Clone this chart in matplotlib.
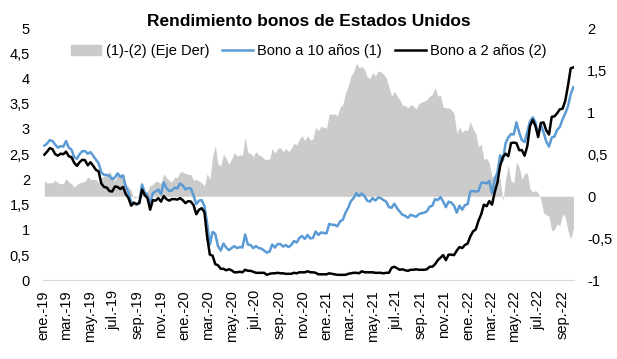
import matplotlib
matplotlib.use("Agg")
import matplotlib.pyplot as plt
import matplotlib.dates as mdates
from matplotlib.patches import Patch
from matplotlib.lines import Line2D
from matplotlib.ticker import FuncFormatter, MultipleLocator
import numpy as np
import pandas as pd

plt.rcParams['font.family'] = ['Liberation Sans', 'DejaVu Sans']

# weekly (Friday) readings, ene.-19 .. sep.-22
dates = pd.date_range('2019-01-04', '2022-09-30', freq='W-FRI')

# Bono a 10 años (1), %
bono10 = [
    2.67, 2.71, 2.78, 2.76,                 # ene-19
    2.69, 2.63, 2.66, 2.65,                 # feb-19
    2.76, 2.63, 2.59, 2.44, 2.41,           # mar-19
    2.50, 2.56, 2.56, 2.51,                 # abr-19
    2.54, 2.47, 2.39, 2.32, 2.14,           # may-19
    2.09, 2.09, 2.07, 2.00,                 # jun-19
    2.04, 2.12, 2.05, 2.08,                 # jul-19
    1.86, 1.74, 1.55, 1.52, 1.50,           # ago-19
    1.55, 1.90, 1.74, 1.69,                 # sep-19
    1.53, 1.73, 1.76, 1.80,                 # oct-19
    1.71, 1.94, 1.83, 1.77, 1.78,           # nov-19
    1.84, 1.82, 1.92, 1.88,                 # dic-19
    1.80, 1.83, 1.82, 1.68, 1.51,           # ene-20
    1.58, 1.59, 1.47, 1.13,                 # feb-20
    0.71, 0.96, 0.92, 0.68,                 # mar-20
    0.59, 0.73, 0.65, 0.60,                 # abr-20
    0.64, 0.68, 0.64, 0.66, 0.65,           # may-20
    0.91, 0.71, 0.70, 0.64,                 # jun-20
    0.68, 0.64, 0.63, 0.59, 0.55,           # jul-20
    0.57, 0.71, 0.65, 0.72,                 # ago-20
    0.72, 0.67, 0.70, 0.66,                 # sep-20
    0.70, 0.78, 0.75, 0.84, 0.88,           # oct-20
    0.82, 0.90, 0.83, 0.84,                 # nov-20
    0.97, 0.90, 0.95, 0.94,                 # dic-20
    0.93, 1.12, 1.10, 1.10, 1.07,           # ene-21
    1.17, 1.20, 1.34, 1.44,                 # feb-21
    1.57, 1.63, 1.73, 1.67,                 # mar-21
    1.72, 1.67, 1.58, 1.56, 1.63,           # abr-21
    1.58, 1.64, 1.63, 1.59,                 # may-21
    1.56, 1.45, 1.44, 1.52,                 # jun-21
    1.43, 1.36, 1.30, 1.28, 1.24,           # jul-21
    1.30, 1.28, 1.26, 1.31,                 # ago-21
    1.33, 1.34, 1.37, 1.46,                 # sep-21
    1.48, 1.61, 1.59, 1.65, 1.56,           # oct-21
    1.45, 1.56, 1.54, 1.48,                 # nov-21
    1.34, 1.48, 1.40, 1.49, 1.51,           # dic-21
    1.76, 1.77, 1.76, 1.77,                 # ene-22
    1.93, 1.94, 1.92, 1.97,                 # feb-22
    1.73, 2.00, 2.14, 2.48,                 # mar-22
    2.38, 2.72, 2.83, 2.90, 2.89,           # abr-22
    3.13, 2.93, 2.78, 2.74,                 # may-22
    2.94, 3.15, 3.23, 3.13,                 # jun-22
    2.88, 3.08, 2.93, 2.75, 2.65,           # jul-22
    2.83, 2.85, 2.98, 3.04,                 # ago-22
    3.19, 3.31, 3.45, 3.69, 3.83,           # sep-22
]

# Bono a 2 años (2), %
bono2 = [
    2.49, 2.55, 2.62, 2.60,                 # ene-19
    2.50, 2.47, 2.51, 2.50,                 # feb-19
    2.55, 2.46, 2.44, 2.33, 2.27,           # mar-19
    2.34, 2.39, 2.38, 2.28,                 # abr-19
    2.34, 2.27, 2.19, 2.16, 1.92,           # may-19
    1.85, 1.84, 1.77, 1.76,                 # jun-19
    1.86, 1.85, 1.81, 1.85,                 # jul-19
    1.71, 1.63, 1.48, 1.54, 1.51,           # ago-19
    1.53, 1.80, 1.69, 1.63,                 # sep-19
    1.40, 1.59, 1.58, 1.63,                 # oct-19
    1.56, 1.67, 1.61, 1.58, 1.61,           # nov-19
    1.61, 1.60, 1.63, 1.59,                 # dic-19
    1.53, 1.57, 1.56, 1.49, 1.31,           # ene-20
    1.40, 1.43, 1.35, 0.86,                 # feb-20
    0.51, 0.49, 0.32, 0.30,                 # mar-20
    0.23, 0.23, 0.20, 0.22,                 # abr-20
    0.20, 0.16, 0.16, 0.17, 0.16,           # may-20
    0.21, 0.19, 0.19, 0.17,                 # jun-20
    0.15, 0.15, 0.15, 0.15, 0.11,           # jul-20
    0.13, 0.14, 0.14, 0.15,                 # ago-20
    0.14, 0.14, 0.13, 0.13,                 # sep-20
    0.13, 0.15, 0.14, 0.16, 0.16,           # oct-20
    0.16, 0.18, 0.16, 0.16,                 # nov-20
    0.15, 0.12, 0.12, 0.12,                 # dic-20
    0.12, 0.14, 0.13, 0.12, 0.11,           # ene-21
    0.11, 0.11, 0.11, 0.13,                 # feb-21
    0.14, 0.15, 0.15, 0.14,                 # mar-21
    0.18, 0.16, 0.16, 0.16, 0.16,           # abr-21
    0.15, 0.15, 0.15, 0.14,                 # may-21
    0.15, 0.15, 0.25, 0.27,                 # jun-21
    0.24, 0.21, 0.22, 0.20, 0.19,           # jul-21
    0.21, 0.21, 0.22, 0.21,                 # ago-21
    0.21, 0.21, 0.22, 0.27,                 # sep-21
    0.27, 0.32, 0.40, 0.45, 0.50,           # oct-21
    0.40, 0.51, 0.51, 0.50,                 # nov-21
    0.59, 0.66, 0.64, 0.70, 0.73,           # dic-21
    0.87, 0.97, 1.01, 1.18,                 # ene-22
    1.31, 1.50, 1.47, 1.57,                 # feb-22
    1.50, 1.75, 1.94, 2.27,                 # mar-22
    2.44, 2.51, 2.46, 2.72, 2.73,           # abr-22
    2.72, 2.58, 2.58, 2.47,                 # may-22
    2.66, 3.06, 3.18, 3.06,                 # jun-22
    2.84, 3.12, 3.13, 2.97, 2.89,           # jul-22
    3.24, 3.25, 3.31, 3.39,                 # ago-22
    3.40, 3.56, 3.86, 4.20, 4.22,           # sep-22
]

meses = ['ene.', 'feb.', 'mar.', 'abr.', 'may.', 'jun.',
         'jul.', 'ago.', 'sep.', 'oct.', 'nov.', 'dic.']

y10 = np.array(bono10)
y2 = np.array(bono2)
spread = y10 - y2   # (1)-(2)

fig = plt.figure(figsize=(6.17, 3.59), dpi=100)
ax = fig.add_axes([0.070, 0.219, 0.860, 0.703])
ax2 = ax.twinx()
ax.set_zorder(ax2.get_zorder() + 1)
ax.patch.set_visible(False)

ax2.fill_between(dates, 0, spread, color='#cbcbcb', linewidth=0)
ax.plot(dates, y10, color='#5b9bd5', lw=1.8)
ax.plot(dates, y2, color='black', lw=1.8)

ax.set_ylim(0, 5)
ax2.set_ylim(-1, 2)
ax.yaxis.set_major_locator(MultipleLocator(0.5))
ax2.yaxis.set_major_locator(MultipleLocator(0.5))
coma = FuncFormatter(lambda v, p: ('%g' % v).replace('.', ','))
ax.yaxis.set_major_formatter(coma)
ax2.yaxis.set_major_formatter(coma)

ax.set_xlim(pd.Timestamp('2019-01-01'), pd.Timestamp('2022-10-01'))
ax.xaxis.set_major_locator(mdates.MonthLocator(bymonth=[1, 3, 5, 7, 9, 11]))
ax.xaxis.set_major_formatter(FuncFormatter(
    lambda v, p: meses[mdates.num2date(v).month - 1] + '-' + mdates.num2date(v).strftime('%y')))
plt.setp(ax.get_xticklabels(), rotation=90)

for a in (ax, ax2):
    for s in a.spines.values():
        s.set_visible(False)
    a.tick_params(length=0, labelsize=10.5)
ax.tick_params(axis='y', pad=9.5)
ax2.tick_params(axis='y', pad=9.5)
ax.tick_params(axis='x', pad=7)
ax.spines['bottom'].set_visible(True)
ax.spines['bottom'].set_color('#d9d9d9')
ax.spines['bottom'].set_linewidth(0.8)

handles = [Patch(color='#cbcbcb'),
           Line2D([], [], color='#5b9bd5', lw=1.8),
           Line2D([], [], color='black', lw=1.8)]
labels = ['(1)-(2) (Eje Der)', 'Bono a 10 años (1)', 'Bono a 2 años (2)']
fig.legend(handles, labels, loc='center', bbox_to_anchor=(0.5, 0.858),
           ncol=3, frameon=False, fontsize=10.5, handlelength=2.1,
           handletextpad=0.3, columnspacing=0.9)

fig.text(0.5, 0.94, 'Rendimiento bonos de Estados Unidos', ha='center',
         va='center', fontsize=12.5, fontweight='bold')

fig.savefig('out.png', dpi=100)
